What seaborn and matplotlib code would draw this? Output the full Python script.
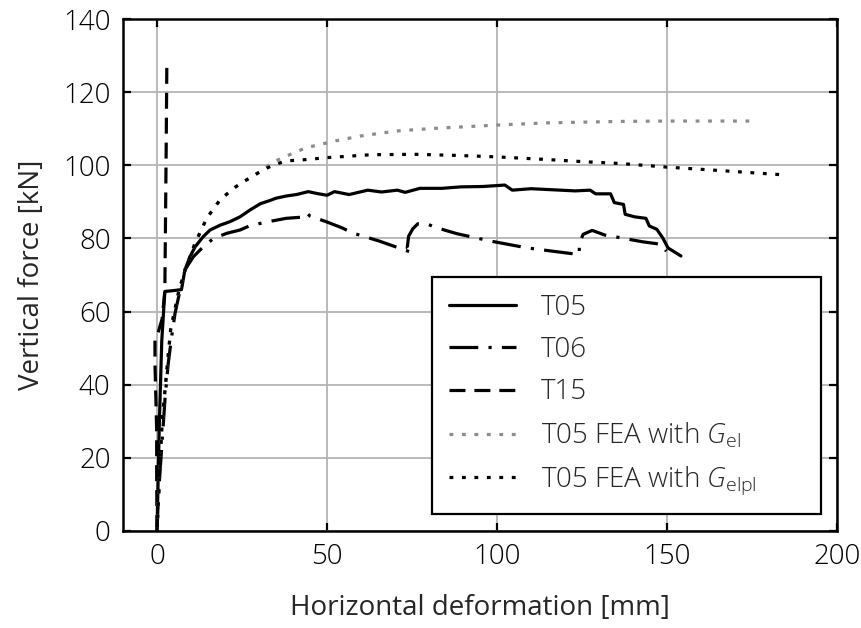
"""Load-deformation curves: tests T05, T06, T15 and FEA of T05."""

import matplotlib
matplotlib.use("Agg")
import matplotlib.pyplot as plt
import seaborn as sns

# --- data ------------------------------------------------------------------
t05_x = [0, 0.7, 1.4, 1.9, 2.3, 4.5, 7.2, 8.2, 9.7, 11.2, 13.6, 15.6, 18.5,
         21.5, 24.4, 27.4, 30.4, 33, 35, 38, 41, 44.5, 47, 50, 52.2, 56.5,
         62, 66, 70.7, 73, 77.3, 83.8, 89.3, 95.8, 102.3, 104.5, 110, 116.5,
         123, 127.4, 129, 133.4, 134.5, 137.2, 137.7, 140.5, 143.8, 144.8,
         147, 148.7, 150.3, 154.1]
t05_y = [0, 30, 52, 59.5, 65.5, 65.7, 66, 71.4, 75, 77.7, 80.5, 82.3, 83.6,
         84.6, 85.9, 87.8, 89.5, 90.3, 91, 91.6, 92, 92.8, 92.3, 91.8, 92.8, 92,
         93.2, 92.7, 93.2, 92.6, 93.7, 93.7, 94.1, 94.2, 94.6, 93.2, 93.6, 93.3,
         93, 93.2, 92.2, 92.2, 89.8, 89.3, 86.6, 85.9, 85.5, 83.4,
         82.5, 80.2, 77.4, 75.2]

t06_x = [0, 0.4, 1.4, 2.4, 3.3, 4.3, 5.3, 6.8, 8.2, 10.7, 13.6, 16.6, 20.5,
         24.4, 27.1, 30.3, 34, 38, 42.4, 44, 45, 49.7, 54.4, 57.5, 65.3, 75.1,
         73.6, 74, 75.2, 76.7, 79.4, 81.6, 88.2, 98, 108.9, 119.8, 124.2,
         124.2, 125.3, 128, 131.8, 136.2, 142.7, 148.2, 149.8]
t06_y = [0, 9.5, 23.1, 36.7, 45.8, 53.1, 59.5, 65.9, 71.4, 75, 77.7, 80, 81.4,
         82.3, 83.4, 84.1, 84.8, 85.5, 85.8, 87, 86.1, 84.6, 82.9, 81.5, 79.3,
         76.1, 77.4, 80.6, 82.6, 84, 84, 83.1, 81.3, 79.3, 77.4, 76.1, 75.6,
         78.4, 81.1, 82.2, 80.9, 80.2, 79.1, 78.4, 76.5]

t15_x = [0, -0.1, -0.1, -0.6, -0.6, 0.4, 1.5, 2.3, 2.5, 2.7, 2.9]
t15_y = [0, 15, 27.6, 45.8, 52.2, 54.5, 58, 65.5, 85, 105, 128.6]

fea_el_x = [0, 1.5, 4, 6.5, 8.5, 11.2, 14.6, 18.5, 22.5, 25.4, 28.1, 31, 34,
            38, 43.8, 48.9, 52.6, 59.8, 70.7, 81.6, 100, 114.3, 136.2, 150.3,
            175.4]
fea_el_y = [0, 30, 55, 66, 72, 78.7, 85.5, 90.5, 93.7, 95.5, 97, 98.8, 100.8,
            102.5, 104.8, 105.9, 106.7, 108, 109.4, 110.1, 111, 111.6, 112,
            112.1, 112.1]

fea_elpl_x = [0, 1.5, 4, 6.5, 8.5, 11.2, 14.6, 18.5, 22.5, 25.4, 28.1, 31, 34,
              38, 43, 50, 63.1, 76.2, 88.2, 100, 114.3, 125.2, 136.2, 150,
              163.4, 184.1]
fea_elpl_y = [0, 30, 55, 66, 72, 78.7, 85.5, 90.5, 93.7, 95.5, 97, 98.6, 100,
              101.2, 101.5, 102.1, 102.9, 103, 102.7, 102.3, 101.6, 101, 100.5,
              99.5, 98.7, 97.4]

labels = ["T05", "T06", "T15",
          r"T05 FEA with $G_{\mathrm{el}}$",
          r"T05 FEA with $G_{\mathrm{elpl}}$"]

# --- styling ----------------------------------------------------------------
sns.set_theme(style="ticks")
plt.rcParams["font.family"] = ["Open Sans", "DejaVu Sans"]
plt.rcParams["font.weight"] = "light"
plt.rcParams["mathtext.fontset"] = "custom"
plt.rcParams["mathtext.rm"] = "Open Sans:light"
plt.rcParams["mathtext.it"] = "Open Sans:italic:light"
FS = 20

fig, ax = plt.subplots(figsize=(8.62, 6.28), dpi=100)
fig.subplots_adjust(left=0.1427, right=0.9710, bottom=0.1545, top=0.9697)

LW = 2.3
series = [
    (t05_x, t05_y, "black", "-"),
    (t06_x, t06_y, "black", (0, (9, 3.2, 1, 3.2))),
    (t15_x, t15_y, "black", (0, (5, 2.8))),
    (fea_el_x, fea_el_y, "#8c8c8c", (0, (1.2, 2.7))),
    (fea_elpl_x, fea_elpl_y, "black", (0, (1.2, 2.7))),
]
for (xs, ys, col, ls), lab in zip(series, labels):
    sns.lineplot(x=xs, y=ys, sort=False, estimator=None, color=col,
                 linestyle=ls, linewidth=LW, label=lab, ax=ax)

ax.set_xlim(-10, 200)
ax.set_ylim(0, 140)
ax.set_xticks([0, 50, 100, 150, 200])
ax.set_yticks(range(0, 141, 20))
ax.grid(True, color="#b4b4b4", linewidth=1.3)
ax.set_axisbelow(True)
ax.tick_params(direction="in", top=True, right=True, length=6, width=1.6,
               labelsize=FS, pad=9, colors="black")
for sp in ax.spines.values():
    sp.set_linewidth(1.8)
    sp.set_color("black")

ax.set_xlabel("Horizontal deformation [mm]", fontsize=FS, labelpad=16)
ax.set_ylabel("Vertical force [kN]", fontsize=FS, labelpad=12)

# wide box, entries left-aligned with free space on the right
leg = ax.legend(loc="lower left", bbox_to_anchor=(0.433, 0.033, 0.545, 0),
                mode="expand", borderaxespad=0, fontsize=FS, frameon=True,
                fancybox=False, handlelength=2.4, handletextpad=0.9,
                labelspacing=0.52, borderpad=0.6)
leg.get_frame().set_edgecolor("black")
leg.get_frame().set_linewidth(1.6)
leg.get_frame().set_alpha(1)

fig.savefig("out.png", dpi=100)
